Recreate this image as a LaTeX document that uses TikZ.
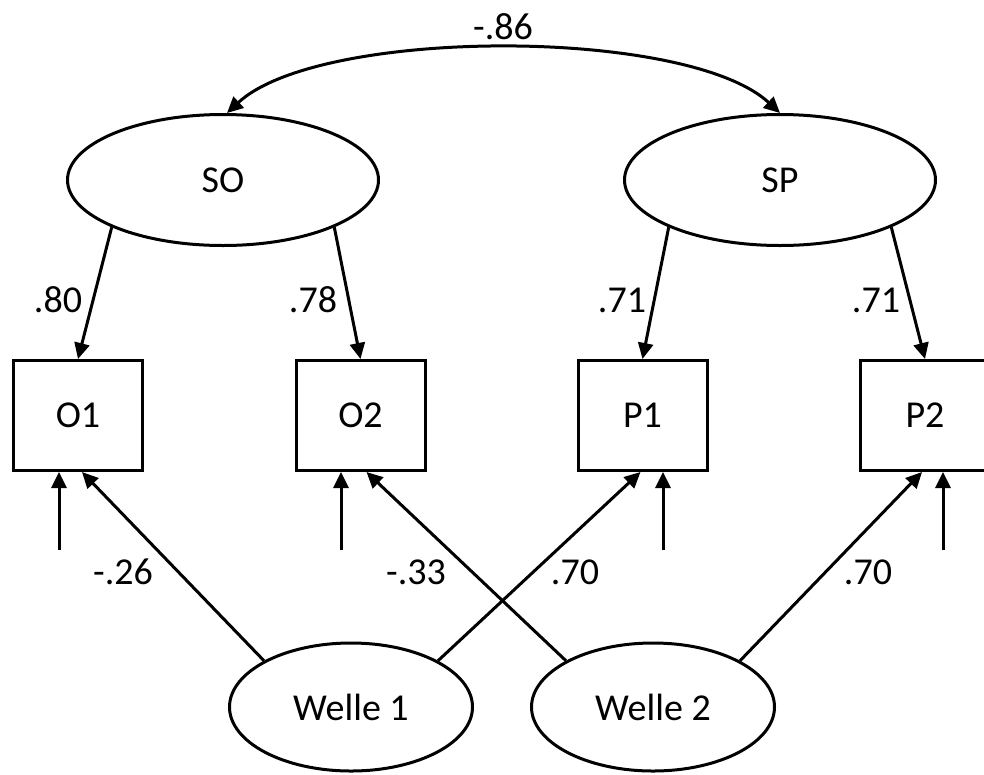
\documentclass[tikz,border=0pt]{standalone}
\usepackage{fontspec}
\setmainfont{Carlito}
\usetikzlibrary{arrows.meta,shapes.geometric}
\begin{document}
\begin{tikzpicture}[x=1pt,y=-1pt,
  font=\fontsize{38}{45}\selectfont,
  line width=3pt,
  latent/.style={draw,ellipse,inner sep=0pt},
  bigell/.style={latent,minimum width=311pt,minimum height=131pt},
  smallell/.style={latent,minimum width=243pt,minimum height=128pt},
  obsbox/.style={draw,rectangle,inner sep=0pt,minimum width=129pt,minimum height=110pt},
  coef/.style={inner sep=0pt},
  arr/.style={-{Triangle[length=16pt,width=15pt]}},
  darr/.style={{Triangle[length=16pt,width=15pt]}-{Triangle[length=16pt,width=15pt]}}
]
\useasboundingbox (0,0) rectangle (984,774);

\node[bigell] (SO) at (223,180) {SO};
\node[bigell] (SP) at (780,180) {SP};

\node[obsbox] (O1) at (78,415.5) {O1};
\node[obsbox] (O2) at (360.5,415.5) {O2};
\node[obsbox] (P1) at (642.5,415.5) {P1};
\node[obsbox] (P2) at (925,415.5) {P2};

\node[smallell] (W1) at (351,707) {Welle 1};
\node[smallell] (W2) at (653,707) {Welle 2};

% covariance
\draw[darr] ([xshift=4pt]SO.north) .. controls (320,27) and (687,27) .. (SP.north);
\node[coef] (c86) at (503,27) {-.86};

% loadings
\draw[arr] (SO.203) -- (O1.north);
\draw[arr] (SO.337) -- (O2.north);
\draw[arr] (SP.203) -- (P1.north);
\draw[arr] (SP.337) -- (P2.north);
\node[coef] (l1) at (58,300) {.80};
\node[coef] (l2) at (313,300) {.78};
\node[coef] (l3) at (622,300) {.71};
\node[coef] (l4) at (876,300) {.71};

% method effects
\draw[arr] (W1.152) -- ([xshift=4pt]O1.south);
\draw[arr] (W1.28) -- ([xshift=-2pt]P1.south);
\draw[arr] (W2.152) -- ([xshift=6pt]O2.south);
\draw[arr] (W2.28) -- ([xshift=-3pt]P2.south);
\node[coef] (m1) at (123,572) {-.26};
\node[coef] (m2) at (416,572) {-.33};
\node[coef] (m3) at (575,572) {.70};
\node[coef] (m4) at (868,572) {.70};

% residuals
\coordinate (e1) at (59,550);
\coordinate (e2) at (341,550);
\coordinate (e3) at (663,550);
\coordinate (e4) at (943,550);
\draw[arr] (e1) -- (e1 |- O1.south);
\draw[arr] (e2) -- (e2 |- O2.south);
\draw[arr] (e3) -- (e3 |- P1.south);
\draw[arr] (e4) -- (e4 |- P2.south);
\end{tikzpicture}
\end{document}
